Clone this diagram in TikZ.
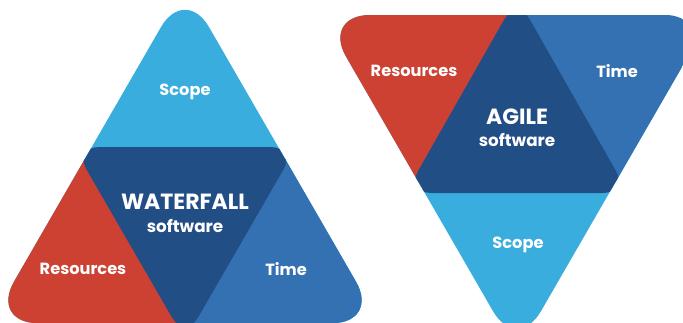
\documentclass[tikz,border=0pt]{standalone}
\usepackage{fontspec}
\setmainfont{Poppins}
\definecolor{scopec}{HTML}{3AADDF}
\definecolor{resc}{HTML}{CD4133}
\definecolor{timec}{HTML}{3471B2}
\definecolor{darkc}{HTML}{224E86}
\tikzset{
  lbl/.style={text=white,font=\bfseries\fontsize{16.2}{18}\selectfont,inner sep=0pt},
  big/.style={text=white,font=\bfseries\fontsize{22}{24}\selectfont,inner sep=0pt},
  sub/.style={text=white,font=\bfseries\fontsize{16.8}{18}\selectfont,inner sep=0pt},
}
\begin{document}
\begin{tikzpicture}[x=1pt,y=-1pt]
\useasboundingbox (0,0) rectangle (683,322);
% ---------- WATERFALL (upright) ----------
\begin{scope}
  \path[clip,rounded corners=48pt] (87.5,154.35) -- (185,-14.5) -- (380,323.2) -- (-10,323.2) -- cycle;
  \fill[scopec] (-20,-20) rectangle (400,340);
  \fill[resc] (-20,158) rectangle (185,340);
  \fill[timec] (185,158) rectangle (400,340);
  \fill[darkc,rounded corners=26pt] (185,147) -- (296.5,147) -- (185,340) -- (73.5,147) -- cycle;
\end{scope}
% ---------- AGILE (inverted) ----------
\begin{scope}
  \path[clip,rounded corners=48pt] (517,15) -- (712,15) -- (517,352.7) -- (322,15) -- cycle;
  \fill[scopec] (300,0) rectangle (720,360);
  \fill[resc] (300,0) rectangle (517,182);
  \fill[timec] (517,0) rectangle (720,182);
  \fill[darkc,rounded corners=26pt] (517,193) -- (405.5,193) -- (517,-3) -- (628.5,193) -- cycle;
\end{scope}
% ---------- labels ----------
\node[lbl] (wscope) at (185,92) {Scope};
\node[big] (wtitle) at (185,202) {WATERFALL};
\node[sub] (wsoft) at (185,226) {software};
\node[lbl] (wres) at (83,269) {Resources};
\node[lbl] (wtime) at (286,269) {Time};
\node[lbl] (ares) at (414,71) {Resources};
\node[lbl] (atime) at (617,71) {Time};
\node[big] (atitle) at (517,117) {AGILE};
\node[sub] (asoft) at (517,140) {software};
\node[lbl] (ascope) at (518,245) {Scope};
\end{tikzpicture}
\end{document}
